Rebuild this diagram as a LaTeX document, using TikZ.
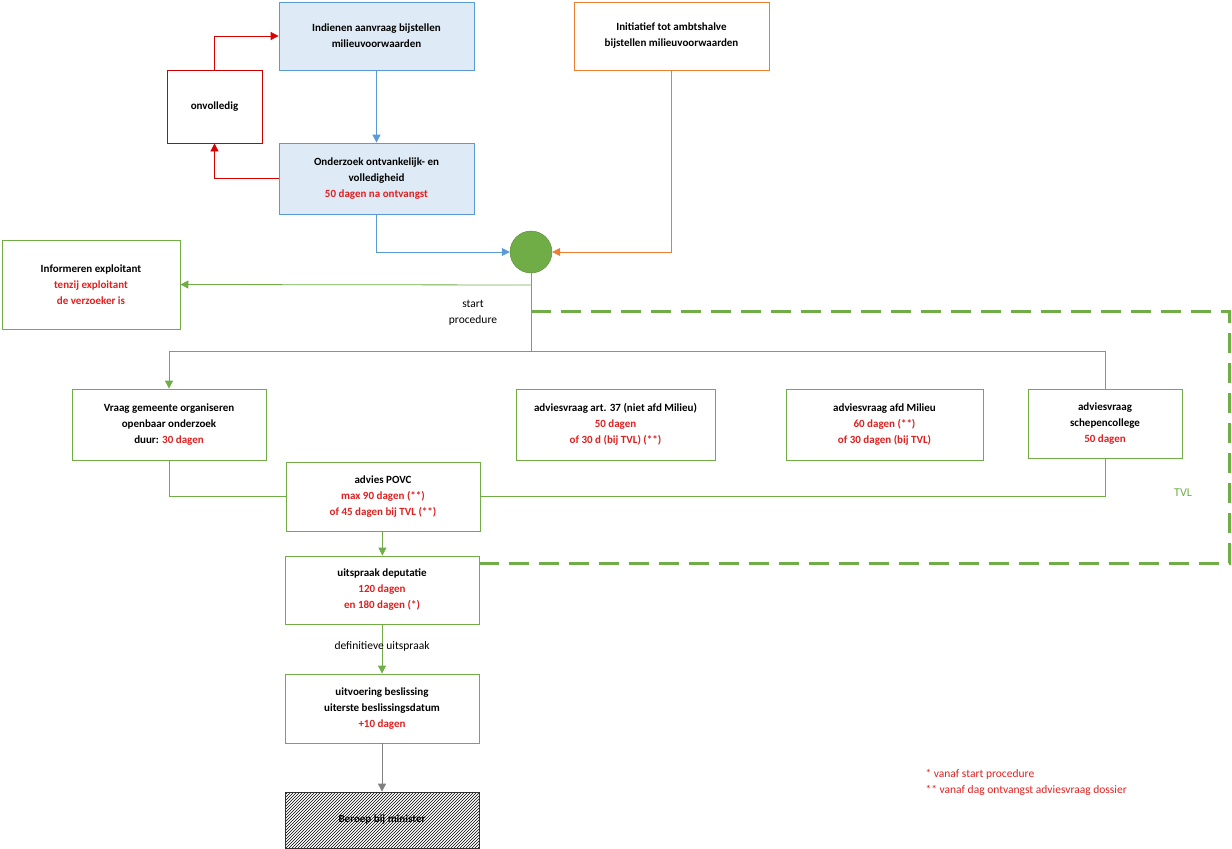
\documentclass[tikz,border=0pt]{standalone}
\usepackage{fontspec}
\setmainfont{Carlito}
\usepackage{tikz}
\usetikzlibrary{arrows.meta}
\usetikzlibrary{patterns}
\definecolor{boxblue}{HTML}{5B9BD5}
\definecolor{fillblue}{HTML}{DEEBF7}
\definecolor{boxgreen}{HTML}{70AD47}
\definecolor{boxorange}{HTML}{ED7D31}
\definecolor{txtred}{HTML}{E02020}
\newcommand{\rd}[1]{\textcolor{txtred}{#1}}
\begin{document}
\begin{tikzpicture}[x=1pt,y=-1pt,font=\fontsize{11}{16}\selectfont\bfseries,
  box/.style={draw=boxgreen,thick,fill=white,align=center,inner sep=2pt},
  link/.style={thick,-{Triangle[length=8pt,width=8pt]}}]
\useasboundingbox (0,0) rectangle (1232,849);
% top part
\node[box,draw=boxblue,fill=fillblue,minimum width=195pt,minimum height=68pt] (ind) at (376.5,36) {Indienen aanvraag bijstellen\\milieuvoorwaarden};
\node[box,draw=boxorange,minimum width=195pt,minimum height=68pt] (init) at (671.5,36) {Initiatief tot ambtshalve\\bijstellen milieuvoorwaarden};
\node[box,draw=red!80!black,minimum width=95pt,minimum height=73pt] (onv) at (214.5,106.5) {onvolledig};
\node[box,draw=boxblue,fill=fillblue,minimum width=195pt,minimum height=71pt] (ond) at (376.5,178.5) {Onderzoek ontvankelijk- en\\volledigheid\\\rd{50 dagen na ontvangst}};
\node[circle,draw=boxgreen!80!black,fill=boxgreen,minimum size=42pt,inner sep=0pt] (knoop) at (531,252) {};
\node[box,minimum width=178pt,minimum height=89pt] (inf) at (91,284.5) {Informeren exploitant\\\rd{tenzij exploitant}\\\rd{de verzoeker is}};
% adviezen
\node[box,minimum width=194pt,minimum height=71pt] (vraag) at (169,424.5) {Vraag gemeente organiseren\\openbaar onderzoek\\duur: \rd{30 dagen}};
\node[box,minimum width=199pt,minimum height=71pt] (art) at (615.5,424.5) {adviesvraag art. 37 (niet afd Milieu)\\\rd{50 dagen}\\\rd{of 30 d (bij TVL) (**)}};
\node[box,minimum width=197pt,minimum height=71pt] (milieu) at (884.5,424.5) {adviesvraag afd Milieu\\\rd{60 dagen (**)}\\\rd{of 30 dagen (bij TVL)}};
\node[box,minimum width=154pt,minimum height=69pt] (schep) at (1105,423.5) {adviesvraag\\schepencollege\\\rd{50 dagen}};
\node[box,minimum width=194pt,minimum height=69pt] (povc) at (383,496.5) {advies POVC\\\rd{max 90 dagen (**)}\\\rd{of 45 dagen bij TVL (**)}};
% beslissing
\node[box,minimum width=194pt,minimum height=68pt] (uitspr) at (382,590) {uitspraak deputatie\\\rd{120 dagen}\\\rd{en 180 dagen (*)}};
\node[box,minimum width=194pt,minimum height=69pt] (uitv) at (382,708.5) {uitvoering beslissing\\uiterste beslissingsdatum\\\rd{+10 dagen}};
\node[box,draw=black!80,pattern=north east lines,minimum width=194pt,minimum height=56pt] (ber) at (382,820) {Beroep bij minister};
% verbindingen
\draw[link,red!85!black] (ond.west) -| (onv.south);
\draw[link,red!85!black] (onv.north) |- (ind.west);
\draw[link,boxblue] (ind) -- (ond);
\draw[link,boxblue] (ond.south) |- (knoop.west);
\draw[link,boxorange] (init.south) |- (knoop.east);
\coordinate (split) at (531,351);
\coordinate (tak) at (531,285);
\draw[thick,boxgreen] (knoop.south) -- (split);
\draw[link,boxgreen] (tak) -- (inf.east);
\draw[link,boxgreen] (split) -| (vraag.north);
\draw[thick,boxgreen] (split) -| (schep.north);
\draw[thick,boxgreen] (vraag.south) |- (povc.west);
\draw[thick,boxgreen] (schep.south) |- (povc.east);
\draw[link,boxgreen] (povc) -- (uitspr);
\draw[link,boxgreen] (uitspr) -- node[pos=0.45,text=black,font=\fontsize{11.5}{13}\selectfont] {definitieve uitspraak} (uitv);
\draw[link,gray] (uitv) -- (ber);
\node[font=\fontsize{11.5}{16}\selectfont,align=center] (start) at (473,313) {start\\procedure};
% TVL
\coordinate (tvlA) at (531,311);
\coordinate (tvlB) at (1229,311);
\coordinate (tvlC) at (1229,563);
\draw[boxgreen,line width=3pt,dash pattern=on 20pt off 10pt] (tvlA) -- (tvlB) -- (tvlC) -- (uitspr.east |- tvlC);
\node[font=\fontsize{12}{14}\selectfont,text=boxgreen] (tvl) at (1183,493) {TVL};
\node[font=\fontsize{11.5}{16}\selectfont,text=txtred,align=left,anchor=north west] (legende) at (922,766) {* vanaf start procedure\\** vanaf dag ontvangst adviesvraag dossier};
\end{tikzpicture}
\end{document}
